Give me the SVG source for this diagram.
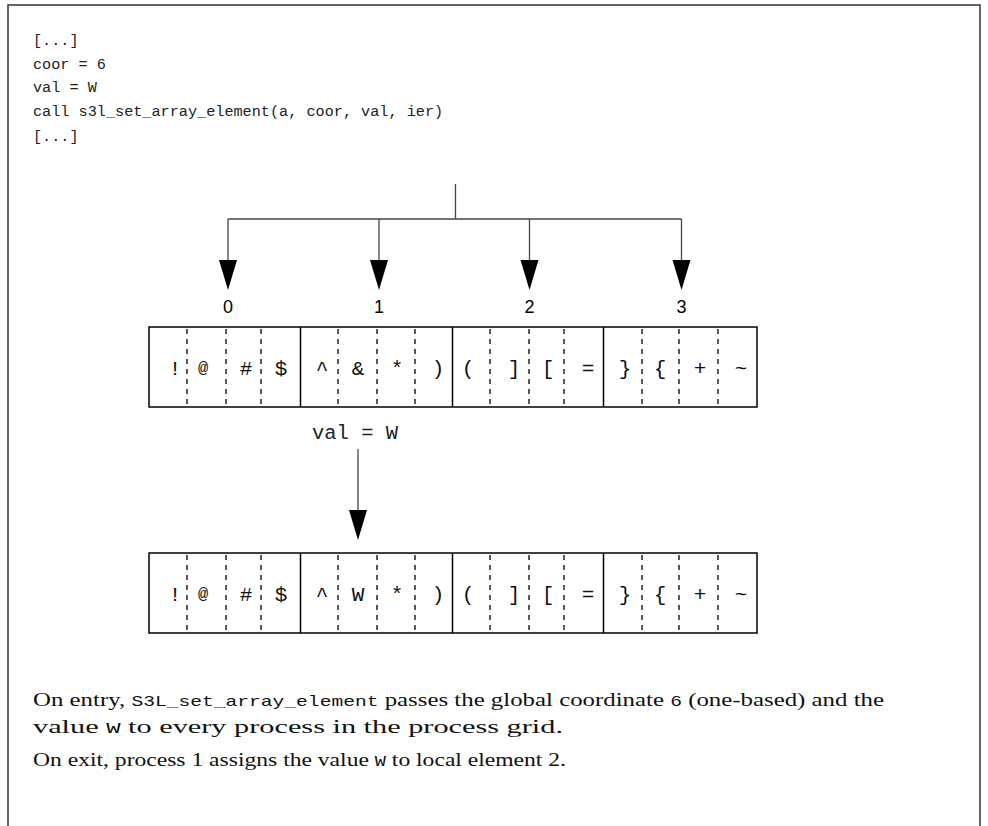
<svg xmlns="http://www.w3.org/2000/svg" width="988" height="826" viewBox="0 0 988 826">
<style>
.code{font-family:"Liberation Mono","Courier New",monospace;font-size:15.2px;fill:#222}
.cell{font-family:"Liberation Mono","Courier New",monospace;font-size:21px;fill:#111;text-anchor:middle}
.at{font-size:17px}
.lbl{font-family:"Liberation Sans",Arial,sans-serif;font-size:18px;fill:#000;text-anchor:middle}
.body{font-family:"Liberation Serif","Times New Roman",serif;font-size:19px;fill:#111}
.mono{font-family:"Liberation Mono","Courier New",monospace;font-size:15px}
.box{fill:#fff;stroke:#000;stroke-width:1.5}
.sep{stroke:#000;stroke-width:1.5}
.dash{stroke:#000;stroke-width:1.3;stroke-dasharray:5,5}
.wire{stroke:#444;stroke-width:1.3;fill:none}
.head{fill:#000}
</style>
<rect width="988" height="826" fill="#fff"/>
<path d="M8,826 L8,5 L980,5 L980,826" fill="none" stroke="#333" stroke-width="1.5"/>
<g id="code">
<text class="code" x="33" y="45">[...]</text>
<text class="code" x="33" y="69">coor = 6</text>
<text class="code" x="33" y="92">val = W</text>
<text class="code" x="33" y="116">call s3l_set_array_element(a, coor, val, ier)</text>
<text class="code" x="33" y="141">[...]</text>
</g>
<g id="connectors">
<path class="wire" d="M455.5,184 L455.5,219 M228,219 L681.5,219"/>
<line class="wire" x1="228" y1="219" x2="228" y2="260"/>
<path class="head" d="M219,260 L237,260 L228,290 Z"/>
<line class="wire" x1="379" y1="219" x2="379" y2="260"/>
<path class="head" d="M370,260 L388,260 L379,290 Z"/>
<line class="wire" x1="529.5" y1="219" x2="529.5" y2="260"/>
<path class="head" d="M520.5,260 L538.5,260 L529.5,290 Z"/>
<line class="wire" x1="681.5" y1="219" x2="681.5" y2="260"/>
<path class="head" d="M672.5,260 L690.5,260 L681.5,290 Z"/>
<line class="wire" x1="358" y1="449" x2="358" y2="510"/>
<path class="head" d="M349,510 L367,510 L358,540 Z"/>
</g>
<g id="labels">
<text class="lbl" x="228" y="313">0</text>
<text class="lbl" x="379" y="313">1</text>
<text class="lbl" x="529.5" y="313">2</text>
<text class="lbl" x="681.5" y="313">3</text>
</g>
<g id="array-before">
<rect class="box" x="149" y="327" width="608" height="80"/>
<line class="sep" x1="300.5" y1="327" x2="300.5" y2="407"/>
<line class="sep" x1="452.5" y1="327" x2="452.5" y2="407"/>
<line class="sep" x1="603.5" y1="327" x2="603.5" y2="407"/>
<g class="dash">
<line x1="187" y1="329" x2="187" y2="407"/><line x1="226" y1="329" x2="226" y2="407"/><line x1="261" y1="329" x2="261" y2="407"/>
<line x1="338" y1="329" x2="338" y2="407"/><line x1="377" y1="329" x2="377" y2="407"/><line x1="415" y1="329" x2="415" y2="407"/>
<line x1="490" y1="329" x2="490" y2="407"/><line x1="529" y1="329" x2="529" y2="407"/><line x1="564" y1="329" x2="564" y2="407"/>
<line x1="642" y1="329" x2="642" y2="407"/><line x1="679" y1="329" x2="679" y2="407"/><line x1="718" y1="329" x2="718" y2="407"/>
</g>
<text class="cell" x="175" y="375">!</text>
<text class="cell at" x="203" y="373">@</text>
<text class="cell" x="246" y="375">#</text>
<text class="cell" x="281" y="375">$</text>
<text class="cell" x="322" y="375">^</text>
<text class="cell" x="358" y="375">&amp;</text>
<text class="cell" x="397" y="375">*</text>
<text class="cell" x="438" y="375">)</text>
<text class="cell" x="468" y="375">(</text>
<text class="cell" x="514" y="375">]</text>
<text class="cell" x="548" y="375">[</text>
<text class="cell" x="588" y="375">=</text>
<text class="cell" x="625" y="375">}</text>
<text class="cell" x="660" y="375">{</text>
<text class="cell" x="700" y="375">+</text>
<text class="cell" x="741" y="375">~</text>
</g>
<g id="val-label">
<text class="code" x="312" y="439" style="font-size:20.5px">val = W</text>
</g>
<g id="array-after">
<rect class="box" x="149" y="553" width="608" height="80"/>
<line class="sep" x1="300.5" y1="553" x2="300.5" y2="633"/>
<line class="sep" x1="452.5" y1="553" x2="452.5" y2="633"/>
<line class="sep" x1="603.5" y1="553" x2="603.5" y2="633"/>
<g class="dash">
<line x1="187" y1="555" x2="187" y2="633"/><line x1="226" y1="555" x2="226" y2="633"/><line x1="261" y1="555" x2="261" y2="633"/>
<line x1="338" y1="555" x2="338" y2="633"/><line x1="377" y1="555" x2="377" y2="633"/><line x1="415" y1="555" x2="415" y2="633"/>
<line x1="490" y1="555" x2="490" y2="633"/><line x1="529" y1="555" x2="529" y2="633"/><line x1="564" y1="555" x2="564" y2="633"/>
<line x1="642" y1="555" x2="642" y2="633"/><line x1="679" y1="555" x2="679" y2="633"/><line x1="718" y1="555" x2="718" y2="633"/>
</g>
<text class="cell" x="175" y="601">!</text>
<text class="cell at" x="203" y="599">@</text>
<text class="cell" x="246" y="601">#</text>
<text class="cell" x="281" y="601">$</text>
<text class="cell" x="322" y="601">^</text>
<text class="cell" x="358" y="601">W</text>
<text class="cell" x="397" y="601">*</text>
<text class="cell" x="438" y="601">)</text>
<text class="cell" x="468" y="601">(</text>
<text class="cell" x="514" y="601">]</text>
<text class="cell" x="548" y="601">[</text>
<text class="cell" x="588" y="601">=</text>
<text class="cell" x="625" y="601">}</text>
<text class="cell" x="660" y="601">{</text>
<text class="cell" x="700" y="601">+</text>
<text class="cell" x="741" y="601">~</text>
</g>
<g id="caption">
<text class="body" x="33" y="706" textLength="851" lengthAdjust="spacingAndGlyphs">On entry, <tspan class="mono">S3L_set_array_element</tspan> passes the global coordinate <tspan class="mono">6</tspan> (one-based) and the</text>
<text class="body" x="33" y="733" textLength="530" lengthAdjust="spacingAndGlyphs">value <tspan class="mono">W</tspan> to every process in the process grid.</text>
<text class="body" x="33" y="766" textLength="533" lengthAdjust="spacingAndGlyphs">On exit, process 1 assigns the value <tspan class="mono">W</tspan> to local element 2.</text>
</g>
</svg>
